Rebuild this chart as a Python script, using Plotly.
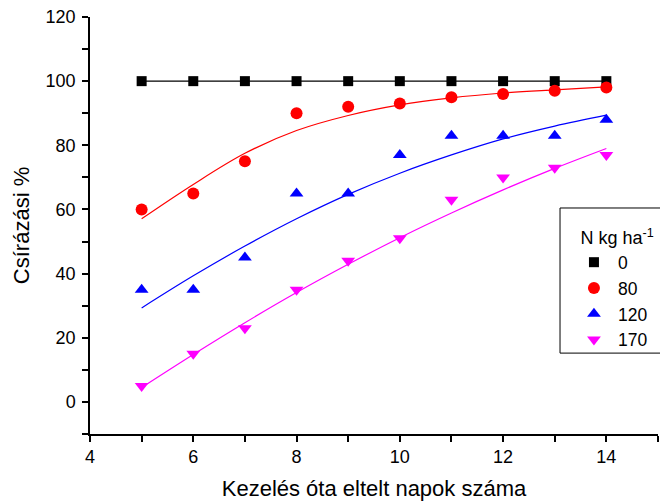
import plotly.graph_objects as go

days = [5, 6, 7, 8, 9, 10, 11, 12, 13, 14]
n_levels = ["0", "80", "120", "170"]

obs_0 = [100, 100, 100, 100, 100, 100, 100, 100, 100, 100]
obs_80 = [60, 65, 75, 90, 92, 93, 95, 96, 97, 98]
obs_120 = [35, 35, 45, 65, 65, 77, 83, 83, 83, 88]
obs_170 = [5, 15, 23, 35, 44, 51, 63, 70, 73, 77]

# fitted curves (at each day)
fit_80 = [57.1, 67.8, 77.5, 84.6, 89.3, 92.6, 94.8, 96.3, 97.3, 98.2]
fit_120 = [29.3, 39.3, 48.6, 57.1, 64.7, 71.3, 77.0, 82.0, 86.0, 89.4]
fit_170 = [4.5, 14.8, 24.7, 34.1, 42.9, 51.2, 58.9, 66.1, 72.8, 79.0]

colors = ["#000000", "#ff0000", "#0000ff", "#ff00ff"]
symbols = ["square", "circle", "triangle-up", "triangle-down"]
sizes = [10, 12, 12, 12]
observed = [obs_0, obs_80, obs_120, obs_170]
fits = [obs_0, fit_80, fit_120, fit_170]

FONT = "Liberation Sans, Arial, sans-serif"

fig = go.Figure()
for fit, c in zip(fits, colors):
    fig.add_trace(go.Scatter(x=days, y=fit, mode="lines",
                             line=dict(color=c, width=1.2, shape="spline", smoothing=1.0),
                             showlegend=False, hoverinfo="skip"))
for name, obs, c, s, sz in zip(n_levels, observed, colors, symbols, sizes):
    fig.add_trace(go.Scatter(x=days, y=obs, mode="markers", name=name,
                             marker=dict(color=c, symbol=s, size=sz, line=dict(width=0))))

tick_font = dict(family=FONT, size=18, color="#000")
fig.update_layout(
    width=660, height=502,
    margin=dict(l=90, r=2, t=17, b=68),
    plot_bgcolor="white", paper_bgcolor="white",
    font=dict(family=FONT, size=18, color="#000"),
    xaxis=dict(range=[4, 15], tickvals=[4, 6, 8, 10, 12, 14],
               showgrid=False, zeroline=False, showline=True, linecolor="#000", linewidth=1.5,
               ticks="outside", ticklen=6, tickwidth=1.5, tickcolor="#000",
               minor=dict(dtick=1, tick0=4, ticks="outside", ticklen=6, tickwidth=1.5, tickcolor="#000", showgrid=False),
               tickfont=tick_font,
               title=dict(text="Kezelés óta eltelt napok száma", font=dict(family=FONT, size=22), standoff=14)),
    yaxis=dict(range=[-10, 120], tickvals=[0, 20, 40, 60, 80, 100, 120],
               showgrid=False, zeroline=False, showline=True, linecolor="#000", linewidth=1.5,
               ticks="outside", ticklen=6, tickwidth=1.5, tickcolor="#000",
               ticklabelstandoff=3,
               minor=dict(dtick=10, tick0=0, ticks="outside", ticklen=6, tickwidth=1.5, tickcolor="#000", showgrid=False),
               tickfont=tick_font,
               title=dict(text="Csírázási %", font=dict(family=FONT, size=22), standoff=10)),
    legend=dict(x=0.845, y=0.511, xanchor="left", yanchor="top",
                borderwidth=0, bgcolor="rgba(0,0,0,0)",
                title=dict(text="\u00a0\u2009N kg ha<sup>-1</sup>", font=dict(family=FONT, size=18)),
                font=dict(family=FONT, size=17.5), itemwidth=38, tracegroupgap=0),
    shapes=[dict(type="rect", xref="paper", yref="paper",
                 x0=0.8275, x1=1.05, y0=0.194, y1=0.542,
                 line=dict(color="#000", width=1), fillcolor="rgba(0,0,0,0)", layer="above")],
)

fig.write_html("out.html")
